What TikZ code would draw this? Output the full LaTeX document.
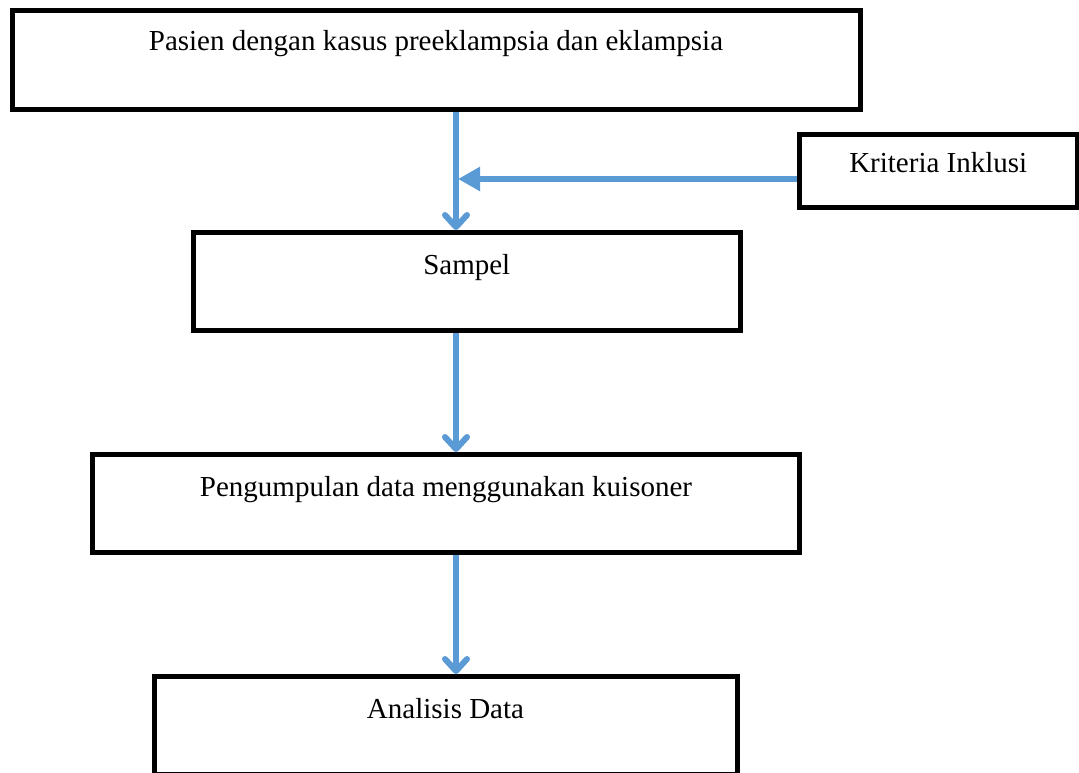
\documentclass[tikz,border=0pt]{standalone}
\usepackage{fontspec}
\setmainfont{Liberation Serif}
\usetikzlibrary{arrows.meta, positioning, calc}
\definecolor{flowblue}{RGB}{91, 155, 213}

\begin{document}
\begin{tikzpicture}[x=1pt, y=1pt, font=\fontsize{29}{34}\selectfont,
        box/.style={rectangle, draw=black, line width=5pt, fill=white, inner sep=0pt},
        lbl/.style={anchor=base, inner sep=0pt},
        flow/.style={draw=flowblue, line width=6pt, -{Straight Barb[length=12pt, width=22pt, round]}},
        flowin/.style={draw=flowblue, line width=6pt, -{Triangle[length=22pt, width=23pt]}}]
        \clip (0,0) rectangle (1079,-772);
        \fill[white] (0,0) rectangle (1079,-772);

        \node[box, minimum width=848pt, minimum height=98.5pt,
              label={[lbl, yshift=-42.5pt]north:Pasien dengan kasus preeklampsia dan eklampsia}] (pasien) at (436,-59.75) {};
        \node[box, minimum width=277.5pt, minimum height=73pt,
              label={[lbl, yshift=-40.5pt]north:Kriteria Inklusi}] (kriteria) at (938.25,-171) {};
        \node[box, minimum width=546.5pt, minimum height=98pt,
              label={[lbl, yshift=-44pt]north:Sampel}] (sampel) at (466.75,-281.5) {};
        \node[box, minimum width=707pt, minimum height=98pt,
              label={[lbl, yshift=-44pt]north:Pengumpulan data menggunakan kuisoner}] (kumpul) at (446,-503.5) {};
        \node[box, minimum width=583pt, minimum height=98pt,
              label={[lbl, yshift=-44pt]north:Analisis Data}] (analisis) at (445.5,-725.5) {};

        \coordinate (spine) at (456,0);
        \coordinate (inkl) at (458,-179);
        \draw[flow] (spine |- pasien.south) -- (spine |- sampel.north);
        \draw[flowin] (inkl -| kriteria.west) -- (inkl);
        \draw[flow] (spine |- sampel.south) -- (spine |- kumpul.north);
        \draw[flow] (spine |- kumpul.south) -- (spine |- analisis.north);
\end{tikzpicture}
\end{document}
